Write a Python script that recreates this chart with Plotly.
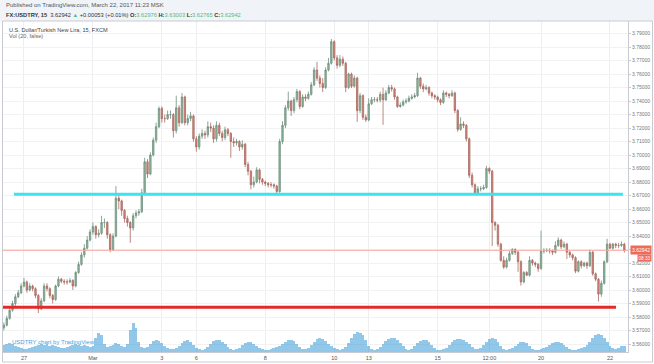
import plotly.graph_objects as go
import pandas as pd

# ---------------- data ----------------
first_open = 3.572
closes = [
    3.574, 3.579, 3.585, 3.590, 3.595, 3.598, 3.603, 3.606, 3.600, 3.603,
    3.601, 3.596, 3.586, 3.592, 3.603, 3.601, 3.596, 3.593, 3.603, 3.608,
    3.6065, 3.606, 3.606, 3.607, 3.603, 3.613, 3.619, 3.626, 3.631, 3.637,
    3.643, 3.647, 3.641, 3.642, 3.650, 3.650, 3.641, 3.630, 3.640, 3.668,
    3.666, 3.659, 3.653, 3.650, 3.646, 3.655, 3.657, 3.658, 3.672, 3.695,
    3.686, 3.700, 3.711, 3.721, 3.7345, 3.727, 3.727, 3.730, 3.730, 3.718,
    3.735, 3.724, 3.743, 3.724, 3.727, 3.729, 3.712, 3.706, 3.714, 3.716,
    3.715, 3.721, 3.720, 3.712, 3.722, 3.716, 3.713, 3.7187, 3.716, 3.710,
    3.709, 3.710, 3.706, 3.708, 3.693, 3.688, 3.678, 3.680, 3.689, 3.682,
    3.680, 3.679, 3.678, 3.678, 3.677, 3.673, 3.710, 3.722, 3.735, 3.740,
    3.733, 3.741, 3.747, 3.736, 3.743, 3.742, 3.745, 3.752, 3.763, 3.757,
    3.753, 3.750, 3.763, 3.768, 3.784, 3.772, 3.7665, 3.771, 3.768, 3.750,
    3.760, 3.751, 3.757, 3.733, 3.744, 3.728, 3.726, 3.738, 3.741, 3.741,
    3.7407, 3.745, 3.741, 3.746, 3.750, 3.749, 3.743, 3.736, 3.737, 3.7393,
    3.740, 3.742, 3.743, 3.744, 3.757, 3.751, 3.749, 3.750, 3.746, 3.744,
    3.743, 3.741, 3.739, 3.746, 3.745, 3.744, 3.7459, 3.733, 3.719, 3.723,
    3.722, 3.712, 3.685, 3.678, 3.672, 3.675, 3.675, 3.676, 3.690, 3.688,
    3.650, 3.648, 3.634, 3.622, 3.617, 3.622, 3.627, 3.630, 3.628, 3.621,
    3.606, 3.613, 3.611, 3.622, 3.620, 3.619, 3.616, 3.629, 3.629, 3.6293,
    3.629, 3.628, 3.633, 3.637, 3.632, 3.634, 3.628, 3.626, 3.624, 3.614,
    3.621, 3.618, 3.620, 3.618, 3.628, 3.612, 3.608, 3.597, 3.605, 3.6209,
    3.634, 3.631, 3.634, 3.633, 3.633, 3.634, 3.62942,
]
highs = [
    3.576, 3.581, 3.587, 3.592, 3.597, 3.600, 3.605, 3.609, 3.607, 3.605,
    3.604, 3.602, 3.597, 3.594, 3.605, 3.605, 3.602, 3.597, 3.604, 3.610,
    3.609, 3.608, 3.608, 3.609, 3.608, 3.614, 3.621, 3.628, 3.634, 3.640,
    3.645, 3.650, 3.648, 3.645, 3.655, 3.653, 3.651, 3.642, 3.642, 3.677,
    3.671, 3.667, 3.660, 3.655, 3.651, 3.657, 3.659, 3.660, 3.675, 3.698,
    3.697, 3.702, 3.713, 3.724, 3.736, 3.736, 3.730, 3.733, 3.733, 3.731,
    3.744, 3.737, 3.746, 3.744, 3.730, 3.732, 3.730, 3.714, 3.716, 3.719,
    3.718, 3.725, 3.724, 3.722, 3.725, 3.724, 3.718, 3.721, 3.720, 3.717,
    3.713, 3.712, 3.711, 3.711, 3.709, 3.695, 3.689, 3.684, 3.691, 3.690,
    3.683, 3.681, 3.680, 3.680, 3.679, 3.678, 3.712, 3.725, 3.737, 3.747,
    3.741, 3.743, 3.749, 3.748, 3.745, 3.745, 3.747, 3.754, 3.765, 3.769,
    3.759, 3.757, 3.765, 3.772, 3.786, 3.785, 3.774, 3.774, 3.773, 3.769,
    3.761, 3.761, 3.759, 3.758, 3.746, 3.745, 3.730, 3.742, 3.743, 3.743,
    3.743, 3.747, 3.750, 3.748, 3.752, 3.752, 3.750, 3.744, 3.739, 3.741,
    3.742, 3.744, 3.745, 3.746, 3.761, 3.758, 3.753, 3.752, 3.751, 3.747,
    3.745, 3.744, 3.742, 3.748, 3.747, 3.746, 3.748, 3.747, 3.734, 3.728,
    3.725, 3.723, 3.713, 3.687, 3.679, 3.677, 3.677, 3.678, 3.692, 3.691,
    3.689, 3.651, 3.649, 3.635, 3.625, 3.624, 3.629, 3.631, 3.631, 3.629,
    3.622, 3.614, 3.614, 3.625, 3.623, 3.621, 3.620, 3.644, 3.631, 3.631,
    3.631, 3.630, 3.636, 3.639, 3.638, 3.636, 3.635, 3.629, 3.627, 3.625,
    3.622, 3.622, 3.621, 3.621, 3.630, 3.629, 3.613, 3.609, 3.607, 3.622,
    3.638, 3.635, 3.635, 3.635, 3.635, 3.636, 3.635,
]
lows = [
    3.570, 3.573, 3.578, 3.584, 3.588, 3.594, 3.597, 3.602, 3.598, 3.599,
    3.599, 3.594, 3.583, 3.585, 3.591, 3.599, 3.594, 3.590, 3.592, 3.602,
    3.605, 3.604, 3.604, 3.605, 3.600, 3.602, 3.612, 3.618, 3.624, 3.630,
    3.636, 3.641, 3.638, 3.639, 3.641, 3.646, 3.638, 3.628, 3.629, 3.639,
    3.660, 3.655, 3.650, 3.647, 3.635, 3.644, 3.653, 3.655, 3.657, 3.671,
    3.683, 3.685, 3.699, 3.709, 3.720, 3.724, 3.724, 3.726, 3.727, 3.713,
    3.716, 3.721, 3.723, 3.722, 3.722, 3.725, 3.710, 3.7025, 3.704, 3.712,
    3.712, 3.713, 3.717, 3.709, 3.710, 3.714, 3.710, 3.711, 3.714, 3.698,
    3.706, 3.707, 3.703, 3.704, 3.691, 3.685, 3.6746, 3.676, 3.679, 3.679,
    3.678, 3.677, 3.676, 3.676, 3.675, 3.6715, 3.672, 3.708, 3.720, 3.733,
    3.729, 3.731, 3.739, 3.734, 3.735, 3.740, 3.741, 3.744, 3.751, 3.755,
    3.750, 3.7466, 3.749, 3.762, 3.767, 3.770, 3.764, 3.765, 3.766, 3.7466,
    3.749, 3.7496, 3.750, 3.7246, 3.731, 3.726, 3.7246, 3.725, 3.737, 3.739,
    3.739, 3.739, 3.7224, 3.740, 3.745, 3.747, 3.741, 3.7349, 3.735, 3.736,
    3.738, 3.739, 3.741, 3.742, 3.743, 3.749, 3.7466, 3.748, 3.744, 3.742,
    3.741, 3.739, 3.737, 3.738, 3.743, 3.742, 3.743, 3.731, 3.7172, 3.718,
    3.720, 3.710, 3.683, 3.676, 3.6709, 3.671, 3.673, 3.674, 3.675, 3.686,
    3.6326, 3.644, 3.632, 3.6209, 3.6157, 3.616, 3.621, 3.626, 3.626, 3.6135,
    3.6033, 3.605, 3.6106, 3.610, 3.618, 3.617, 3.6135, 3.615, 3.627, 3.628,
    3.627, 3.626, 3.627, 3.632, 3.6304, 3.631, 3.623, 3.624, 3.622, 3.6125,
    3.613, 3.616, 3.617, 3.6157, 3.617, 3.6106, 3.6065, 3.5915, 3.595, 3.604,
    3.620, 3.6304, 3.630, 3.631, 3.631, 3.632, 3.6277,
]
volumes = [
    7, 8, 9, 8, 6, 5, 4, 3, 3, 4,
    5, 6, 7, 8, 7, 8, 6, 7, 6, 5,
    4, 4, 5, 6, 7, 8, 7, 6, 7, 6,
    5, 6, 14, 19, 17, 8, 5, 6, 7, 9,
    8, 6, 5, 8, 22, 29, 24, 10, 5, 4,
    5, 8, 11, 12, 11, 9, 6, 4, 3, 3,
    4, 6, 9, 11, 12, 10, 7, 4, 3, 2,
    3, 5, 8, 11, 12, 12, 10, 8, 5, 3,
    2, 3, 4, 7, 9, 10, 10, 8, 6, 4,
    3, 2, 2, 3, 4, 5, 6, 8, 10, 12,
    12, 11, 8, 5, 3, 3, 4, 7, 10, 13,
    14, 13, 11, 8, 6, 4, 3, 2, 3, 5,
    9, 14, 18, 20, 19, 17, 12, 6, 3, 2,
    3, 5, 8, 11, 13, 14, 14, 12, 9, 6,
    3, 2, 3, 6, 9, 11, 12, 12, 10, 7,
    4, 2, 2, 3, 4, 7, 10, 12, 13, 13,
    12, 10, 8, 5, 3, 3, 4, 7, 10, 13,
    14, 13, 10, 6, 3, 2, 3, 4, 6, 8,
    10, 10, 9, 6, 3, 2, 2, 3, 4, 5,
    7, 9, 10, 10, 9, 7, 5, 3, 2, 2,
    3, 4, 5, 7, 10, 14, 17, 18, 17, 14,
    10, 6, 4, 3, 4, 6, 6,
]
spike_times = [
    "2017-02-24 14:15", "2017-02-27 04:10", "2017-02-27 18:05", "2017-02-28 19:55",
    "2017-03-01 02:50", "2017-03-02 03:10", "2017-03-02 14:20", "2017-03-03 05:40",
    "2017-03-03 21:40", "2017-03-06 16:30", "2017-03-07 13:20", "2017-03-08 19:20",
    "2017-03-09 09:15", "2017-03-10 16:35", "2017-03-10 19:20", "2017-03-13 19:40",
    "2017-03-13 21:50", "2017-03-15 20:25", "2017-03-16 03:25", "2017-03-16 12:25",
    "2017-03-17 09:20", "2017-03-20 18:05", "2017-03-21 17:00",
]
spike_vols = [25, 17, 19, 17, 80, 82, 15, 14, 19, 25, 16, 17, 19, 32, 26, 25, 27,
              35, 22, 20, 18, 17, 17]

resistance_level = 3.6709
resistance_span = ["2017-02-24 17:00", "2017-03-22 09:00"]
support_level = 3.5872
support_span = ["2017-02-24 08:00", "2017-03-22 04:10"]
last_price = 3.62942

tick_vals = ["2017-02-27 00:00", "2017-03-01 00:00", "2017-03-03 00:00", "2017-03-06 00:00",
             "2017-03-08 00:00", "2017-03-10 00:00", "2017-03-13 00:00", "2017-03-15 00:00",
             "2017-03-16 12:00", "2017-03-20 00:00", "2017-03-22 00:00"]
tick_text = ["27", "Mar", "3", "6", "8", "10", "13", "15", "12:00", "20", "22"]

# ---------------- build ----------------
times = pd.date_range("2017-02-24 10:00", "2017-03-22 10:00", freq="2h")
times = times[times.weekday < 5]
opens = [first_open] + closes[:-1]

FONT = "Liberation Sans"
fig = go.Figure()

fig.add_trace(go.Bar(x=times, y=volumes, yaxis="y2", width=7200000,
                     marker=dict(color="rgba(72,162,216,0.6)", line=dict(width=0)),
                     hoverinfo="skip", showlegend=False))
fig.add_trace(go.Bar(x=spike_times, y=spike_vols, yaxis="y2", width=2100000,
                     marker=dict(color="rgba(140,160,140,0.7)", line=dict(width=0)),
                     hoverinfo="skip", showlegend=False))

fig.add_trace(go.Candlestick(
    x=times, open=opens, high=highs, low=lows, close=closes,
    increasing=dict(line=dict(color="#6f8f7c", width=0.8), fillcolor="#8cbaa0"),
    decreasing=dict(line=dict(color="#a86a60", width=0.8), fillcolor="#d9857a"),
    whiskerwidth=0, showlegend=False))

fig.add_trace(go.Scatter(x=resistance_span, y=[resistance_level] * 2,
                         mode="lines", line=dict(color="#3ee3ee", width=3),
                         showlegend=False, hoverinfo="skip"))
fig.add_trace(go.Scatter(x=support_span, y=[support_level] * 2,
                         mode="lines", line=dict(color="#e32a2a", width=3),
                         showlegend=False, hoverinfo="skip"))

# pixel helpers for paper coords (plot area x 3..628, y 21..352)
def px(x):
    return (x - 3) / 625.0

def py(y):
    return (352 - y) / 331.0

shapes = [
    dict(type="rect", xref="paper", yref="paper", x0=px(0), x1=px(654), y0=py(21), y1=py(0),
         fillcolor="#f0f3f8", line=dict(width=0), layer="below"),
    dict(type="rect", xref="paper", yref="paper", x0=px(2.5), x1=px(652.5), y0=py(362), y1=py(21),
         fillcolor="rgba(0,0,0,0)", line=dict(color="#c8ccd2", width=1)),
    dict(type="line", xref="paper", yref="y", x0=0, x1=1, y0=last_price, y1=last_price,
         line=dict(color="#f4aaa2", width=1)),
]

green = "#53b987"
header2 = ("<b>FX:USDTRY, 15</b>  3.62942 <span style='color:%s'>▲</span> +0.00053 (+0.01%%) "
           "<b>O:</b><span style='color:%s'>3.62976</span> <b>H:</b><span style='color:%s'>3.63003</span> "
           "<b>L:</b><span style='color:%s'>3.62765</span> <b>C:</b><span style='color:%s'>3.62942</span>"
           % (green, green, green, green, green))

annotations = [
    dict(text="Published on TradingView.com, March 22, 2017 11:23 MSK", xref="paper", yref="paper",
         x=px(4), y=py(5), xanchor="left", yanchor="middle", showarrow=False,
         font=dict(family=FONT, size=6, color="#555")),
    dict(text=header2, xref="paper", yref="paper", x=px(4), y=py(15), xanchor="left",
         yanchor="middle", showarrow=False, font=dict(family=FONT, size=5.7, color="#333")),
    dict(text="U.S. Dollar/Turkish New Lira, 15, FXCM", xref="paper", yref="paper",
         x=px(7), y=py(30), xanchor="left", yanchor="middle", showarrow=False,
         font=dict(family=FONT, size=5.6, color="#444")),
    dict(text="Vol (20, false)", xref="paper", yref="paper", x=px(7), y=py(36),
         xanchor="left", yanchor="middle", showarrow=False,
         font=dict(family=FONT, size=5.6, color="#666")),
    dict(text="USDTRY chart by TradingView", xref="paper", yref="paper", x=px(10), y=py(341.5),
         xanchor="left", yanchor="middle", showarrow=False,
         font=dict(family=FONT, size=6, color="#4aa3df")),
    dict(text="3.62942", xref="paper", yref="y", x=px(630), y=last_price, xanchor="left",
         yanchor="middle", showarrow=False, bgcolor="#ee6a5a", borderpad=1,
         font=dict(family=FONT, size=5, color="white")),
    dict(text="08:33", xref="paper", yref="paper", x=px(637), y=py(257.5), xanchor="left",
         yanchor="middle", showarrow=False, bgcolor="#ee6a5a", borderpad=0.5,
         font=dict(family=FONT, size=4.6, color="white")),
]

fig.update_layout(
    width=654, height=364,
    margin=dict(l=3, r=26, t=21, b=12, autoexpand=False),
    paper_bgcolor="white", plot_bgcolor="white",
    bargap=0, barmode="overlay",
    shapes=shapes, annotations=annotations,
    showlegend=False,
    xaxis=dict(
        type="date", range=["2017-02-24 09:23", "2017-03-22 12:33"],
        rangebreaks=[dict(bounds=["sat", "mon"])],
        rangeslider=dict(visible=False),
        tickmode="array", tickvals=tick_vals, ticktext=tick_text,
        showgrid=True, gridcolor="#eceef1", gridwidth=1,
        showline=True, linecolor="#c8ccd2", linewidth=1,
        ticks="", tickfont=dict(family=FONT, size=5.5, color="#555"),
        zeroline=False, automargin=False,
    ),
    yaxis=dict(
        side="right", range=[3.5541, 3.7993], dtick=0.01, tick0=3.56,
        tickformat=".5f", showgrid=True, gridcolor="#f1f2f4", gridwidth=1,
        showline=True, linecolor="#c8ccd2", linewidth=1,
        ticks="outside", ticklen=2, tickcolor="#c8ccd2",
        tickfont=dict(family=FONT, size=5, color="#777"),
        zeroline=False, automargin=False,
    ),
    yaxis2=dict(overlaying="y", range=[0, 331], visible=False, fixedrange=True),
)

fig.write_html("out.html", config={"displayModeBar": False},
               post_script="document.body.style.margin='0px';document.body.style.padding='0px';")
